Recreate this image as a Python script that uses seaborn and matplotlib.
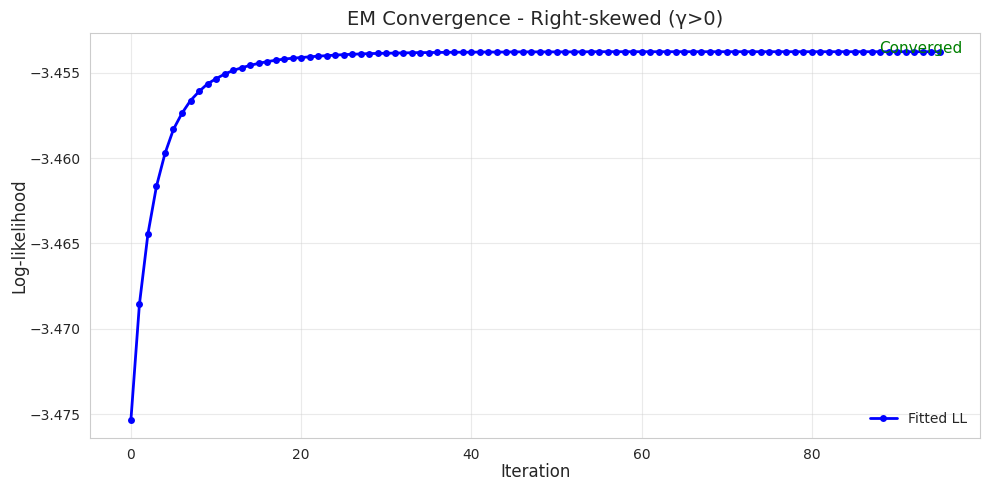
import numpy as np
import pandas as pd
import matplotlib
matplotlib.use("Agg")
import matplotlib.pyplot as plt
import seaborn as sns

final_ll = -3.45377
# gap below the converged value for each iteration
gaps = [0.02155, 0.01478, 0.01066, 0.00788, 0.00596, 0.00454, 0.00360, 0.00286,
        0.00233, 0.00188, 0.00158, 0.00131, 0.00110, 0.00094, 0.00080, 0.00068,
        0.00058, 0.00050, 0.00043, 0.00038, 0.00034, 0.00030, 0.00026, 0.00023,
        0.00020, 0.00017, 0.00015, 0.00013, 0.00011, 0.00010, 0.00009, 0.00008,
        0.00007, 0.00006, 0.00005, 0.00005, 0.00004, 0.00004, 0.00003, 0.00003,
        0.00003, 0.00002, 0.00002, 0.00002, 0.00002, 0.00001, 0.00001, 0.00001,
        0.00001, 0.00001, 0.00001, 0.00001, 0.00001, 0.00001, 0.00000, 0.00000,
        0.00000, 0.00000, 0.00000, 0.00000, 0.00000, 0.00000, 0.00000, 0.00000,
        0.00000, 0.00000, 0.00000, 0.00000, 0.00000, 0.00000, 0.00000, 0.00000,
        0.00000, 0.00000, 0.00000, 0.00000, 0.00000, 0.00000, 0.00000, 0.00000,
        0.00000, 0.00000, 0.00000, 0.00000, 0.00000, 0.00000, 0.00000, 0.00000,
        0.00000, 0.00000, 0.00000, 0.00000, 0.00000, 0.00000, 0.00000, 0.00000]
iterations = list(range(len(gaps)))
log_lik = [final_ll - g for g in gaps]

df = pd.DataFrame({"Iteration": iterations, "Log-likelihood": log_lik})

sns.set_style("whitegrid")
fig, ax = plt.subplots(figsize=(9.89, 4.9), dpi=100)
sns.lineplot(data=df, x="Iteration", y="Log-likelihood", ax=ax, color="blue",
             marker="o", markersize=5, markeredgewidth=0, linewidth=2,
             label="Fitted LL")
ax.set_title("EM Convergence - Right-skewed (γ>0)", fontsize=14)
ax.set_xlabel("Iteration", fontsize=12, labelpad=1)
ax.set_ylabel("Log-likelihood", fontsize=12, labelpad=1)
ax.grid(True, alpha=0.4)
ax.text(0.98, 0.98, "Converged", transform=ax.transAxes, ha="right", va="top",
        color="green", fontsize=11)
ax.legend(loc="lower right", frameon=False)
for s in ax.spines.values():
    s.set_color("#cccccc")
fig.subplots_adjust(left=0.0915, right=0.991, top=0.932, bottom=0.106)
fig.savefig("out.png", dpi=100)
